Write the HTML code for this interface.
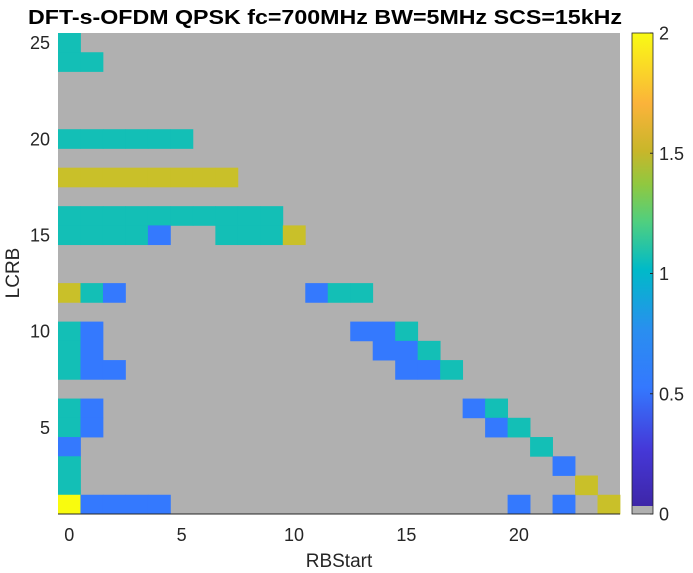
<!DOCTYPE html>
<html><head><meta charset="utf-8"><style>
html,body{margin:0;padding:0;background:#fff;}
svg{display:block;font-family:"Liberation Sans",Arial,sans-serif;}
</style></head><body>
<svg id="chart" width="693" height="573" viewBox="0 0 693 573" xmlns="http://www.w3.org/2000/svg">
<defs>
<linearGradient id="parula" x1="0" y1="1" x2="0" y2="0">
<stop offset="0" stop-color="#3e26a8"/>
<stop offset="0.12" stop-color="#4538d8"/>
<stop offset="0.25" stop-color="#3478fe"/>
<stop offset="0.37" stop-color="#2a8ef0"/>
<stop offset="0.5" stop-color="#00bac8"/>
<stop offset="0.6" stop-color="#4fcf80"/>
<stop offset="0.68" stop-color="#90c840"/>
<stop offset="0.75" stop-color="#c8b62a"/>
<stop offset="0.85" stop-color="#fbb33a"/>
<stop offset="1" stop-color="#f9fb14"/>
</linearGradient>
</defs>
<text x="325" y="24" text-anchor="middle" font-weight="bold" font-size="20" textLength="594" lengthAdjust="spacingAndGlyphs">DFT-s-OFDM QPSK fc=700MHz BW=5MHz SCS=15kHz</text>
<g id="plot"></g>
<g id="axes"></g>
<g id="cbar"></g>
<text x="339" y="567" text-anchor="middle" font-size="19" fill="#262626">RBStart</text>
<text transform="translate(19,273) rotate(-90)" text-anchor="middle" font-size="19" fill="#262626">LCRB</text>
</svg>
<script>
// cells: [LCRB, RBStart, value]
const cellLcrb =  [25,24,24,20,20,20,20,20,20,18,18,18,18,18,18,18,18,16,16,16,16,16,16,16,16,16,16,15,15,15,15,15,15,15,15,15,12,12,12,12,12,12,10,10,10,10,10,9,9,9,9,9,8,8,8,8,8,8,6,6,6,6,5,5,5,5,4,4,3,3,2,2,1,1,1,1,1,1,1,1];
const cellStart = [0,0,1,0,1,2,3,4,5,0,1,2,3,4,5,6,7,0,1,2,3,4,5,6,7,8,9,0,1,2,3,4,7,8,9,10,0,1,2,11,12,13,0,1,13,14,15,0,1,14,15,16,0,1,2,15,16,17,0,1,18,19,0,1,19,20,0,21,0,22,0,23,0,1,2,3,4,20,22,24];
const cellValue = [1,1,1,1,1,1,1,1,1,1.5,1.5,1.5,1.5,1.5,1.5,1.5,1.5,1,1,1,1,1,1,1,1,1,1,1,1,1,1,0.5,1,1,1,1.5,1.5,1,0.5,0.5,1,1,1,0.5,0.5,0.5,1,1,0.5,0.5,0.5,1,1,0.5,0.5,0.5,0.5,1,1,0.5,0.5,1,1,0.5,0.5,1,0.5,1,1,0.5,1,1.5,2,0.5,0.5,0.5,0.5,0.5,0.5,1.5];
const xTicks = [0,5,10,15,20];
const yTicks = [5,10,15,20,25];
const cTicks = [0,0.5,1,1.5,2];
const cTickLabels = ["0","0.5","1","1.5","2"];

const NS="http://www.w3.org/2000/svg";
const L=58,R=620,T=33,B=514,N=25;
const cw=(R-L)/N, ch=(B-T)/N;
const xPos = s => L + s*cw;
const yPos = lcrb => T + (N-lcrb)*ch;
function colorOf(v){
  if(v>=2) return "#f9fb0e";
  if(v>=1.5) return "#c9c029";
  if(v>=1) return "#13bfb6";
  if(v>=0.5) return "#3479fe";
  return "#b0b0b0";
}
function mk(tag,attrs,parent){const e=document.createElementNS(NS,tag);for(const k in attrs)e.setAttribute(k,attrs[k]);parent.appendChild(e);return e;}
const plot=document.getElementById('plot'), axes=document.getElementById('axes'), cbar=document.getElementById('cbar');
const bg=mk('rect',{x:L,y:T,width:R-L,height:B-T,fill:'#b0b0b0'},plot);


for(let i=0;i<cellValue.length;i++){
  const r=mk('rect',{x:xPos(cellStart[i]).toFixed(2),y:yPos(cellLcrb[i]).toFixed(2),width:(cw+0.4).toFixed(2),height:(ch+0.4).toFixed(2),fill:colorOf(cellValue[i])},plot);
  
  
}
const xa=mk('line',{x1:L,y1:B,x2:R,y2:B,stroke:'#262626','stroke-width':1},axes);


xTicks.forEach(t=>{
  const tx=mk('text',{x:xPos(t)+cw/2,y:541,'text-anchor':'middle','font-size':18,fill:'#262626'},axes);
  tx.textContent=t;
  
  
});
yTicks.forEach(t=>{
  const ty=mk('text',{x:50,y:yPos(t)+ch/2+6.5,'text-anchor':'end','font-size':18,fill:'#262626'},axes);
  ty.textContent=t;
  
  
});
// colorbar
const CL=632,CR=653,CT=33,CB=514,CG=506;
const grad=mk('rect',{x:CL,y:CT,width:CR-CL,height:CG-CT,fill:'url(#parula)'},cbar);


const gz=mk('rect',{x:CL,y:CG,width:CR-CL,height:CB-CG,fill:'#b0b0b0'},cbar);


const fr=mk('rect',{x:CL,y:CT,width:CR-CL,height:CB-CT,fill:'none',stroke:'#262626','stroke-width':0.8},cbar);


const cY=v=>CB-(v/2)*(CB-CT);
cTicks.forEach((t,i)=>{
  const tl=mk('line',{x1:CR-3,y1:cY(t),x2:CR,y2:cY(t),stroke:'#262626','stroke-width':1},cbar);
  
  
  const tt=mk('text',{x:659,y:cY(t)+6.5,'font-size':18,fill:'#262626'},cbar);
  tt.textContent=cTickLabels[i];
  
  
});
</script>
</body></html>
